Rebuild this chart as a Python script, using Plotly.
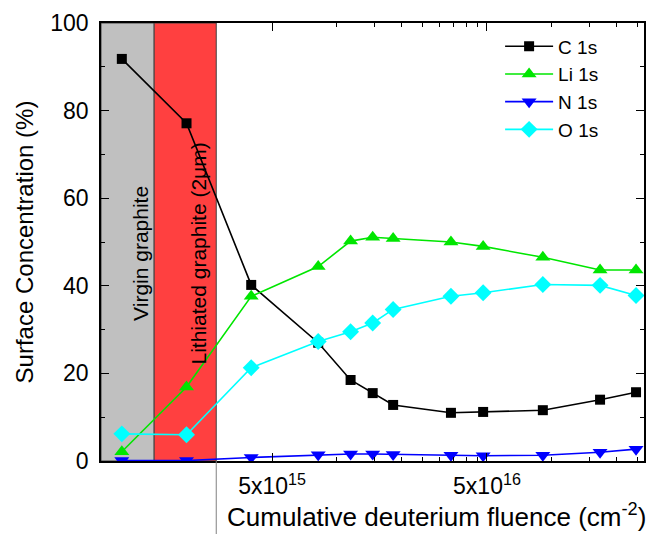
import math
import plotly.graph_objects as go

# ---- data ----
fluence = [1e15, 2e15, 4e15, 8.2e15, 1.16e16, 1.47e16, 1.83e16, 3.4e16, 4.8e16, 9.1e16, 1.68e17, 2.47e17]
c1s  = [91.8, 77.1, 40.2, 27.0, 18.5, 15.5, 12.8, 11.0, 11.2, 11.6, 14.0, 15.7]
li1s = [2.1, 16.9, 37.6, 44.4, 50.2, 51.1, 50.8, 50.0, 49.0, 46.5, 43.6, 43.6]
n1s  = [0.1, 0.1, 0.8, 1.4, 1.6, 1.6, 1.5, 1.3, 1.2, 1.3, 2.0, 2.7]
o1s  = [6.2, 6.0, 21.3, 27.3, 29.5, 31.5, 34.6, 37.6, 38.4, 40.3, 40.1, 37.8]

series_names = ["C 1s", "Li 1s", "N 1s", "O 1s"]
x_tickvals = [5e15, 5e16]
x_ticktext = ["5x10<sup>15</sup>", "5x10<sup>16</sup>"]
x_minor = [1e16, 1.5e16, 2e16, 2.5e16, 3e16, 3.5e16, 4e16, 4.5e16, 1e17, 1.5e17, 2e17, 2.5e17]
y_tickvals = [0, 20, 40, 60, 80, 100]
y_minor = [10, 30, 50, 70, 90]

band_edges = [8.0e14, 1.414e15, 2.75e15]   # virgin | lithiated regions
band_labels = ["Virgin graphite", "Lithiated graphite (2\u03bcm)"]

x_range = [8.0e14, 2.69e17]
lo, hi = math.log10(x_range[0]), math.log10(x_range[1])

def px(v):
    return (math.log10(v) - lo) / (hi - lo)

FONT = "Liberation Sans, Arial, sans-serif"

styles = [
    dict(color="#000000", symbol="square", size=10),
    dict(color="#00e600", symbol="triangle-up", size=13),
    dict(color="#0000ff", symbol="triangle-down", size=13),
    dict(color="#00ffff", symbol="diamond", size=13),
]

fig = go.Figure()
for name, ys, st in zip(series_names, [c1s, li1s, n1s, o1s], styles):
    fig.add_trace(go.Scatter(
        x=fluence, y=ys, name=name, mode="lines+markers",
        line=dict(color=st["color"], width=1.6),
        marker=dict(color=st["color"], symbol=st["symbol"], size=st["size"], line=dict(width=0)),
    ))

# shaded regions
fills = ["#c0c0c0", "#ff4040"]
shapes = []
for i in range(2):
    shapes.append(dict(type="rect", xref="paper", yref="paper",
                       x0=px(band_edges[i]), x1=px(band_edges[i + 1]), y0=0, y1=1,
                       fillcolor=fills[i], line=dict(color="#404040", width=1), layer="below"))
# line extending below the axis at end of lithiated region
shapes.append(dict(type="line", xref="paper", yref="paper",
                   x0=px(band_edges[2]), x1=px(band_edges[2]), y0=0, y1=-0.17,
                   line=dict(color="#808080", width=1)))

annotations = []
for i in range(2):
    xc = 10 ** ((math.log10(band_edges[i]) + math.log10(band_edges[i + 1])) / 2)
    annotations.append(dict(xref="paper", yref="paper", x=px(xc), y=0.473,
                            text=band_labels[i], textangle=-90, showarrow=False,
                            font=dict(family=FONT, size=21, color="#000000")))
annotations.append(dict(xref="paper", yref="paper", x=0.618, y=-0.125, yanchor="middle",
                        text="Cumulative deuterium fluence (cm<sup>-2</sup>)",
                        showarrow=False, font=dict(family=FONT, size=26, color="#000000")))

fig.update_layout(
    width=655, height=534,
    margin=dict(l=101, r=11, t=23, b=73, autoexpand=False),
    paper_bgcolor="white", plot_bgcolor="white",
    font=dict(family=FONT, size=21, color="#000000"),
    shapes=shapes, annotations=annotations,
    showlegend=True,
    legend=dict(x=0.735, y=0.99, xanchor="left", yanchor="top",
                bgcolor="rgba(0,0,0,0)", font=dict(size=19), itemwidth=48,
                tracegroupgap=0),
    xaxis=dict(type="log", range=[lo, hi], showgrid=False, zeroline=False, automargin=False,
               showline=True, linecolor="#000000", linewidth=1.5, mirror="ticks",
               ticks="inside", ticklen=8, tickwidth=1.2, tickcolor="#000000",
               tickmode="array", tickvals=x_tickvals, ticktext=x_ticktext,
               tickfont=dict(size=23), ticklabelstandoff=4,
               minor=dict(tickmode="array", tickvals=x_minor, ticks="inside",
                          ticklen=4, tickwidth=1.2, tickcolor="#000000", showgrid=False)),
    yaxis=dict(range=[0, 100], showgrid=False, zeroline=False, automargin=False,
               showline=True, linecolor="#000000", linewidth=1.5, mirror="ticks",
               ticks="inside", ticklen=8, tickwidth=1.2, tickcolor="#000000",
               tickmode="array", tickvals=y_tickvals, tickfont=dict(size=23),
               ticklabelstandoff=6,
               title=dict(text="Surface Concentration (%)", font=dict(size=24), standoff=10),
               minor=dict(tickmode="array", tickvals=y_minor, ticks="inside",
                          ticklen=4, tickwidth=1.2, tickcolor="#000000", showgrid=False)),
)

fig.write_html("out.html", config={"displayModeBar": False},
               post_script="document.body.style.margin='0';document.body.style.padding='0';")
